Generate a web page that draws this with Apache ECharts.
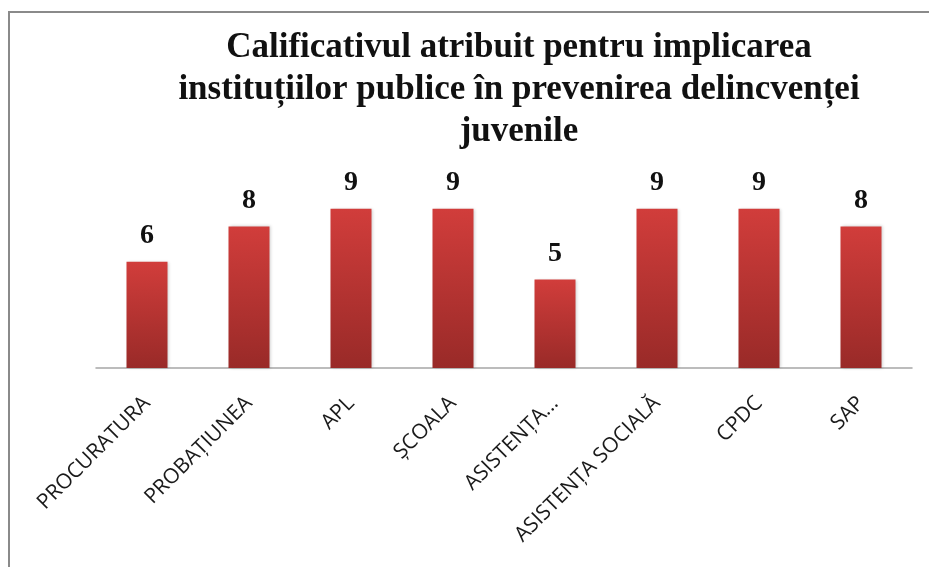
<!DOCTYPE html>
<html>
<head>
<meta charset="utf-8">
<script src="https://cdn.jsdelivr.net/npm/echarts@6/dist/echarts.min.js"></script>
<style>
  html, body { margin: 0; padding: 0; background: #fff; }
  #main { width: 929px; height: 567px; }
</style>
</head>
<body>
<div id="main"></div>
<script>
// date din grafic
var categorii = ["PROCURATURA", "PROBAȚIUNEA", "APL", "ȘCOALA", "ASISTENȚA...", "ASISTENȚA SOCIALĂ", "CPDC", "SAP"];
var valori = [6, 8, 9, 9, 5, 9, 9, 8];
var titlu = "Calificativul atribuit pentru implicarea\ninstituțiilor publice în prevenirea delincvenței\njuvenile";

var myChart = echarts.init(document.getElementById("main"));

myChart.setOption({
  backgroundColor: "#fff",
  title: {
    text: titlu,
    left: 514,
    top: 22,
    textAlign: "center",
    textStyle: {
      fontFamily: "Liberation Serif",
      fontWeight: "bold",
      fontSize: 35,
      lineHeight: 42,
      color: "#111",
    },
  },
  graphic: [
    {
      type: "rect",
      shape: { x: 9, y: 12, width: 960, height: 600 },
      style: { fill: "none", stroke: "#8a8a8a", lineWidth: 2 },
      silent: true,
    },
  ],
  grid: { left: 96, right: 17, top: 191, bottom: 199 },
  xAxis: {
    type: "category",
    data: categorii,
    axisTick: { show: false },
    axisLine: { lineStyle: { color: "#a6a6a6", width: 1.5 } },
    axisLabel: {
      rotate: 45,
      interval: 0,
      margin: 32,
      fontFamily: "Open Sans",
      fontSize: 21,
      color: "#1a1a1a",
    },
  },
  yAxis: {
    type: "value",
    min: 0,
    max: 10,
    show: false,
    splitLine: { show: false },
  },
  series: [
    {
      type: "bar",
      data: valori,
      barWidth: 41,
      itemStyle: {
        color: new echarts.graphic.LinearGradient(0, 0, 0, 1, [
          { offset: 0, color: "#d13d3b" },
          { offset: 1, color: "#992a28" },
        ]),
        shadowColor: "rgba(0,0,0,0.2)",
        shadowBlur: 3,
        shadowOffsetX: 1,
      },
      label: {
        show: true,
        position: "top",
        distance: 12,
        fontFamily: "Liberation Serif",
        fontWeight: "bold",
        fontSize: 28,
        color: "#111",
      },
    },
  ],
});
</script>
</body>
</html>
